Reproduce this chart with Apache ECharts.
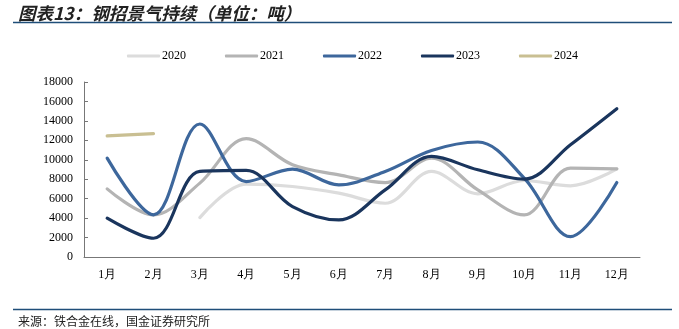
<!DOCTYPE html>
<html><head><meta charset="utf-8">
<script src="https://cdn.jsdelivr.net/npm/echarts@6/dist/echarts.min.js"></script>
<style>html,body{margin:0;padding:0;background:#fff}#c{width:679px;height:329px}</style>
</head><body><div id="c"></div>
<script>
var months = ['1月','2月','3月','4月','5月','6月','7月','8月','9月','10月','11月','12月'];
var s2020 = [null, null, 4050, 7490, 7250, 6570, 5530, 8800, 6500, 7870, 7320, 9070];
var s2021 = [7010, 4330, 7600, 12170, 9490, 8450, 7660, 10170, 6900, 4330, 9140, 9070];
var s2022 = [10170, 4330, 13680, 7760, 9040, 7420, 8800, 10960, 11830, 8110, 2090, 7660];
var s2023 = [3990, 1930, 8800, 8900, 5190, 3810, 6900, 10340, 8970, 8010, 11550, 15260];
var s2024 = [12450, 12700];
var names = ['2020','2021','2022','2023','2024'];
var colors = ['#dcdcdc','#b4b4b4','#3d679c','#1a355d','#c9bf92'];
var all = [s2020, s2021, s2022, s2023, s2024];
var chart = echarts.init(document.getElementById('c'));
var serif = '"Liberation Serif", "Times New Roman", serif';
chart.setOption({
  animation: false,
  color: colors,
  title: [{
    text: '图表13：钢招景气持续（单位：吨）', left: 13, top: 0,
    textStyle: {fontSize: 17.5, fontWeight: 'bold', fontStyle: 'italic', color: '#222', fontFamily: '"Noto Sans CJK SC"'}
  },{
    text: '来源：铁合金在线，国金证券研究所', left: 13, top: 310,
    textStyle: {fontSize: 12, fontWeight: 'normal', color: '#222', fontFamily: '"Noto Sans CJK SC"'}
  }],
  graphic: [
    {type: 'line', shape: {x1: 13, y1: 22.5, x2: 672, y2: 22.5}, style: {stroke: '#1f4e79', lineWidth: 1.5}},
    {type: 'line', shape: {x1: 13, y1: 309.5, x2: 672, y2: 309.5}, style: {stroke: '#1f4e79', lineWidth: 1.5}}
  ],
  legend: {
    top: 50, left: 127, padding: 0, itemGap: 39, itemWidth: 33, itemHeight: 3,
    data: names.map(function(n){return {name: n, icon: 'roundRect'};}),
    textStyle: {fontFamily: serif, fontSize: 12, color: '#000', padding: [0,0,0,-3]}
  },
  grid: {left: 84, right: 39, top: 82, bottom: 72},
  xAxis: {
    type: 'category', data: months, boundaryGap: true,
    axisLine: {lineStyle: {color: '#777'}},
    axisTick: {inside: true, length: 4, lineStyle: {color: '#777'}},
    axisLabel: {fontFamily: serif, fontSize: 12, color: '#000', margin: 12}
  },
  yAxis: {
    type: 'value', min: 0, max: 18000, interval: 2000,
    splitLine: {show: false},
    axisLine: {show: true, lineStyle: {color: '#777'}},
    axisTick: {show: true, inside: true, length: 4, lineStyle: {color: '#777'}},
    axisLabel: {fontFamily: serif, fontSize: 12, color: '#000', margin: 11, formatter: function(v){return String(v);}}
  },
  series: all.map(function(d, i){
    return {name: names[i], type: 'line', data: d, smooth: 0.35, showSymbol: false, symbol: 'none',
      lineStyle: {width: 3.2, color: colors[i], cap: 'round'}, z: 2 + i};
  })
});
</script></body></html>
